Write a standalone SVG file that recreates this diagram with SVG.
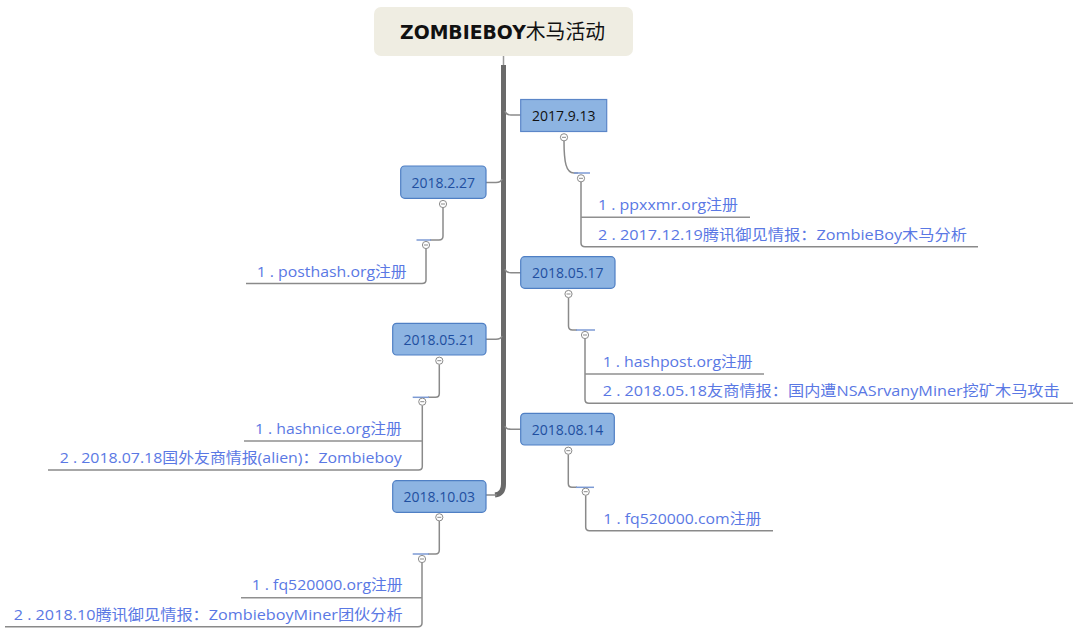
<svg xmlns="http://www.w3.org/2000/svg" xmlns:xlink="http://www.w3.org/1999/xlink" width="1080" height="633" viewBox="0 0 1080 633">
<style>
.title{font-family:"Verdana","DejaVu Sans","Noto Sans CJK SC",sans-serif;font-weight:bold;font-size:19px;fill:#111;}
.tcjk{font-family:"Noto Sans CJK SC",sans-serif;font-weight:normal;font-size:20px;}
.node rect{fill:#8db4e2;stroke:#4f7fc4;stroke-width:1.2;}
.nt{font-family:"Open Sans","Noto Sans",sans-serif;font-size:14px;fill:#1f4fa0;text-anchor:middle;}
.it{font-family:"Open Sans","Noto Sans CJK SC",sans-serif;font-size:15px;fill:#5a78e4;}
.ln{fill:none;stroke:#8a8a8a;stroke-width:1.5;}
.ul{fill:none;stroke:#8f8f8f;stroke-width:1.5;}
.bl{fill:none;stroke:#7c9ad4;stroke-width:1.5;}
.trunk{fill:none;stroke:#6a6a6a;stroke-width:5;}
</style>
<defs>
<g id="tg"><circle cx="0" cy="0" r="3.6" fill="#fff" stroke="#8a8a8a" stroke-width="1"/><line x1="-2" y1="0" x2="2" y2="0" stroke="#8a8a8a" stroke-width="1"/></g>
</defs>
<rect width="1080" height="633" fill="#fff"/>

<g id="connectors">
<line x1="503.5" y1="56" x2="503.5" y2="66" stroke="#9a9a9a" stroke-width="1.5"/>
<path class="trunk" d="M503.5 65 V484 Q503.5 494 495 495"/>
<!-- trunk to nodes -->
<path class="ln" d="M505 111 Q506 115 511 115 H521"/>
<path class="ln" d="M502 179 Q501 182.5 496 182.5 H486"/>
<path class="ln" d="M505 269 Q506 272.7 511 272.7 H521"/>
<path class="ln" d="M502 336 Q501 339.3 496 339.3 H486"/>
<path class="ln" d="M505 426 Q506 429.3 511 429.3 H521"/>
<path class="ln" d="M497 495 H486"/>

<!-- 2017.9.13 -->
<path class="ln" d="M564 141 C564 162 566 173 574 173 H578"/>
<line class="bl" x1="574" y1="173" x2="590" y2="173"/>
<path class="ln" d="M581 182 V243 Q581 246.7 585 246.7 H978"/>
<line class="ul" x1="581" y1="217.3" x2="750" y2="217.3"/>

<!-- 2018.2.27 -->
<path class="ln" d="M443 208 V236 Q443 240 439 240 H430"/>
<line class="bl" x1="416.5" y1="240" x2="431" y2="240"/>
<path class="ln" d="M426 249 V280 Q426 283.5 422 283.5 H246"/>

<!-- 2018.05.17 -->
<path class="ln" d="M568.5 298 V326 Q568.5 330 572.5 330 H577"/>
<line class="bl" x1="576" y1="330" x2="595" y2="330"/>
<path class="ln" d="M585 339 V399.5 Q585 403.3 589 403.3 H1073"/>
<line class="ul" x1="585" y1="374" x2="764" y2="374"/>

<!-- 2018.05.21 -->
<path class="ln" d="M439.3 364.5 V393.5 Q439.3 397.3 435.5 397.3 H428"/>
<line class="bl" x1="412.7" y1="397.3" x2="429" y2="397.3"/>
<path class="ln" d="M422.3 405.5 V466.5 Q422.3 470 418.5 470 H48"/>
<line class="ul" x1="244" y1="441" x2="422.3" y2="441"/>

<!-- 2018.08.14 -->
<path class="ln" d="M568.3 454.5 V483.5 Q568.3 487.3 572 487.3 H577"/>
<line class="bl" x1="576" y1="487.3" x2="594" y2="487.3"/>
<path class="ln" d="M585.7 495.5 V527 Q585.7 530.7 589.5 530.7 H773"/>

<!-- 2018.10.03 -->
<path class="ln" d="M439.3 521 V550 Q439.3 554 435.5 554 H428"/>
<line class="bl" x1="412.7" y1="554" x2="429" y2="554"/>
<path class="ln" d="M422 563 V623 Q422 626.7 418 626.7 H5"/>
<line class="ul" x1="241" y1="597.7" x2="422" y2="597.7"/>

<!-- toggles -->
<use xlink:href="#tg" x="564" y="137.3"/>
<use xlink:href="#tg" x="581" y="178.3"/>
<use xlink:href="#tg" x="443" y="204"/>
<use xlink:href="#tg" x="426" y="245"/>
<use xlink:href="#tg" x="568.5" y="294"/>
<use xlink:href="#tg" x="585" y="335"/>
<use xlink:href="#tg" x="439.3" y="360.7"/>
<use xlink:href="#tg" x="422.3" y="401.7"/>
<use xlink:href="#tg" x="568.3" y="450.7"/>
<use xlink:href="#tg" x="585.7" y="491.7"/>
<use xlink:href="#tg" x="439.3" y="517.3"/>
<use xlink:href="#tg" x="422" y="559"/>
</g>

<g id="title">
<rect x="374" y="7" width="259" height="49" rx="7" fill="#efede2"/>
<text class="title" x="400" y="39" textLength="205" lengthAdjust="spacingAndGlyphs">ZOMBIEBOY<tspan class="tcjk">木马活动</tspan></text>
</g>

<g id="n20170913" class="node">
<rect x="520.7" y="99.5" width="86" height="32" style="stroke:#5b86c8"/>
<text class="nt" x="563.7" y="120.5" style="fill:#111">2017.9.13</text>
</g>
<g id="n20180227" class="node">
<rect x="400.7" y="166" width="85.3" height="32.3" rx="4"/>
<text class="nt" x="443.3" y="187.5">2018.2.27</text>
</g>
<g id="n20180517" class="node">
<rect x="520.7" y="256.7" width="94.3" height="31.6" rx="4"/>
<text class="nt" x="567.8" y="277.5">2018.05.17</text>
</g>
<g id="n20180521" class="node">
<rect x="392.7" y="323.3" width="93.3" height="31.7" rx="4"/>
<text class="nt" x="439.3" y="344.5">2018.05.21</text>
</g>
<g id="n20180814" class="node">
<rect x="520.7" y="413.3" width="93.6" height="31.7" rx="4"/>
<text class="nt" x="567.5" y="434.5">2018.08.14</text>
</g>
<g id="n20181003" class="node">
<rect x="392.7" y="480.7" width="93.3" height="31.6" rx="4"/>
<text class="nt" x="439.3" y="501.8">2018.10.03</text>
</g>

<g id="items">
<text class="it" x="598" y="210" textLength="140" lengthAdjust="spacingAndGlyphs">1 . ppxxmr.org注册</text>
<text class="it" x="598" y="239.5" textLength="369" lengthAdjust="spacingAndGlyphs">2 . 2017.12.19腾讯御见情报：ZombieBoy木马分析</text>
<text class="it" x="406.7" y="276.5" text-anchor="end" textLength="150" lengthAdjust="spacingAndGlyphs">1 . posthash.org注册</text>
<text class="it" x="602.7" y="366.5" textLength="150" lengthAdjust="spacingAndGlyphs">1 . hashpost.org注册</text>
<text class="it" x="602.7" y="395.5" textLength="457" lengthAdjust="spacingAndGlyphs">2 . 2018.05.18友商情报：国内遭NSASrvanyMiner挖矿木马攻击</text>
<text class="it" x="401.7" y="433.5" text-anchor="end" textLength="146.7" lengthAdjust="spacingAndGlyphs">1 . hashnice.org注册</text>
<text class="it" x="401.7" y="462.5" text-anchor="end" textLength="342" lengthAdjust="spacingAndGlyphs">2 . 2018.07.18国外友商情报(alien)：Zombieboy</text>
<text class="it" x="603.3" y="523.5" textLength="158" lengthAdjust="spacingAndGlyphs">1 . fq520000.com注册</text>
<text class="it" x="402.7" y="590" text-anchor="end" textLength="151" lengthAdjust="spacingAndGlyphs">1 . fq520000.org注册</text>
<text class="it" x="402.7" y="619.5" text-anchor="end" textLength="389" lengthAdjust="spacingAndGlyphs">2 . 2018.10腾讯御见情报：ZombieboyMiner团伙分析</text>
</g>
</svg>
